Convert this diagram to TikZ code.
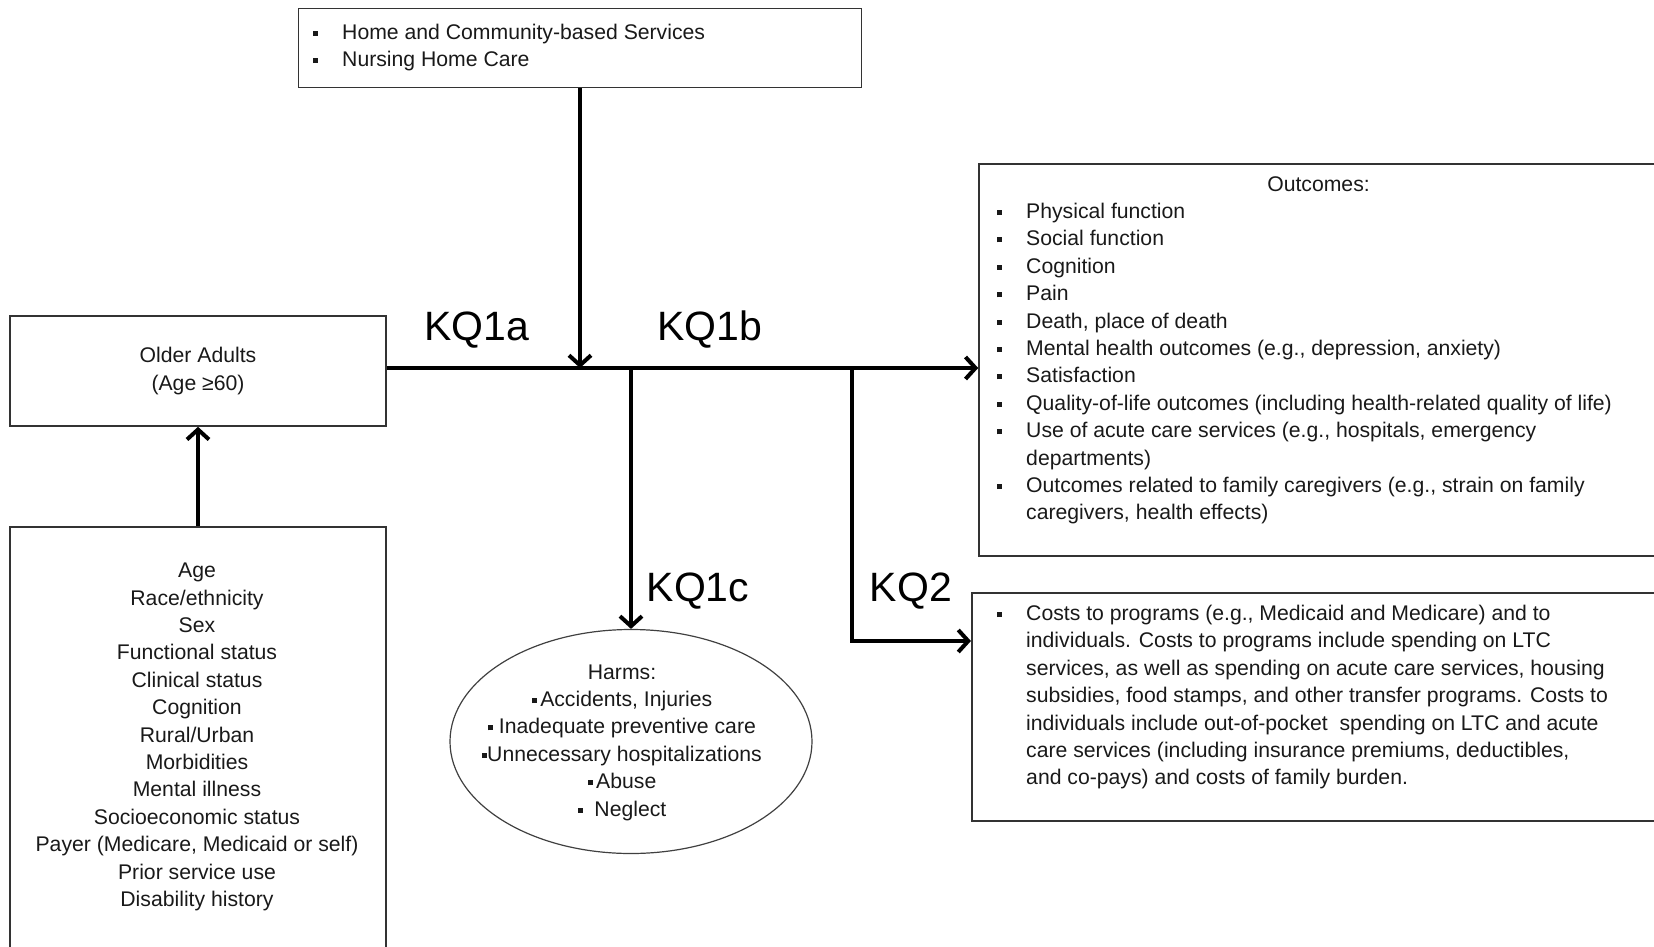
\documentclass[tikz,border=0pt]{standalone}
\usepackage{fontspec}
\setmainfont{Liberation Sans}
\usetikzlibrary{arrows.meta,positioning,shapes.geometric,calc}
\newcommand{\bsq}{\rule[3.5pt]{5pt}{5pt}}
\newcommand{\litem}[1]{\makebox[29pt][l]{\bsq}#1}
\tikzset{
  box/.style={draw=black!80, line width=1.6pt, inner sep=0pt},
  oval/.style={draw=black!75, line width=1.2pt, ellipse, inner sep=0pt},
  txt/.style={font=\fontsize{21.2}{27.4}\selectfont, inner sep=0pt, text=black!90},
  flow/.style={-{Straight Barb[length=10pt,width=22pt]}, line width=4pt},
  kq/.style={font=\fontsize{41}{45}\selectfont, inner sep=0pt},
}

\begin{document}
\begin{tikzpicture}[x=1pt, y=-1pt]
  \useasboundingbox (0,0) rectangle (1654,947);
  \clip (0,0) rectangle (1654,947);
  % services on top
  \node[box, minimum width=563pt, minimum height=79pt] (svc) at (580,48) {};
  \node[txt, anchor=west, align=left] (svctxt) at (313,47.5)
    {\litem{Home and Community-based Services}\\\litem{Nursing Home Care}};
  % population
  \node[box, txt, align=center, minimum width=375.5pt, minimum height=110pt] (adults) at (198,371)
    {Older Adults\\(Age ≥60)};
  \node[box, minimum width=375.5pt, minimum height=440pt] (factors) at (198,747) {};
  \node[txt, align=center, anchor=north] (factxt) at (197,563)
    {Age\\Race/ethnicity\\Sex\\Functional status\\Clinical status\\Cognition\\Rural/Urban\\
     Morbidities\\Mental illness\\Socioeconomic status\\Payer (Medicare, Medicaid or self)\\
     Prior service use\\Disability history};
  % outcomes
  \node[box, minimum width=681pt, minimum height=392.5pt] (outcomes) at (1319.5,360) {};
  \node[txt] (outhead) at (1318.5,184) {Outcomes:};
  \node[txt, align=left, anchor=north west] (outtxt) at (997,203)
    {\litem{Physical function}\\\litem{Social function}\\\litem{Cognition}\\\litem{Pain}\\
     \litem{Death, place of death}\\\litem{Mental health outcomes (e.g., depression, anxiety)}\\
     \litem{Satisfaction}\\\litem{Quality-of-life outcomes (including health-related quality of life)}\\
     \litem{Use of acute care services (e.g., hospitals, emergency}\\\hspace*{29pt}departments)\\
     \litem{Outcomes related to family caregivers (e.g., strain on family}\\\hspace*{29pt}caregivers, health effects)};
  % costs
  \node[box, minimum width=688.5pt, minimum height=228pt] (costs) at (1316,707) {};
  \node[txt, align=left, anchor=north west] (costtxt) at (997,605)
    {\litem{Costs to programs (e.g., Medicaid and Medicare) and to}\\
     \hspace*{29pt}individuals. Costs to programs include spending on LTC\\
     \hspace*{29pt}services, as well as spending on acute care services, housing\\
     \hspace*{29pt}subsidies, food stamps, and other transfer programs. Costs to\\
     \hspace*{29pt}individuals include out-of-pocket\ \ spending on LTC and acute\\
     \hspace*{29pt}care services (including insurance premiums, deductibles,\\
     \hspace*{29pt}and co-pays) and costs of family burden.};
  % harms
  \node[oval, minimum width=362pt, minimum height=224pt] (harms) at (631,741.5) {};
  \node[txt, align=center] (harmtxt) at (622,742.5)
    {Harms:\\\bsq\,Accidents, Injuries\\\bsq\ Inadequate preventive care\\
     \bsq Unnecessary hospitalizations\\\bsq\,Abuse\\\bsq\ \ Neglect};
  % key questions
  \node[kq] (kqa) at (477,330) {KQ1a};
  \node[kq] (kqb) at (710,330) {KQ1b};
  \node[kq] (kqc) at (698,591) {KQ1c};
  \node[kq] (kqd) at (911,591) {KQ2};
  % arrows
  \coordinate (stem) at ([yshift=3pt]adults.east);
  \coordinate (fork) at (852,368);
  \draw[flow] (stem) -- (stem -| outcomes.west);
  \draw[flow] (svc.south) -- (svc.south |- stem);
  \draw[flow] (harms.north |- stem) -- (harms.north);
  \draw[flow] (fork) |- ([yshift=66pt]costs.west);
  \draw[flow] (factors.north) -- (adults.south);
\end{tikzpicture}
\end{document}
